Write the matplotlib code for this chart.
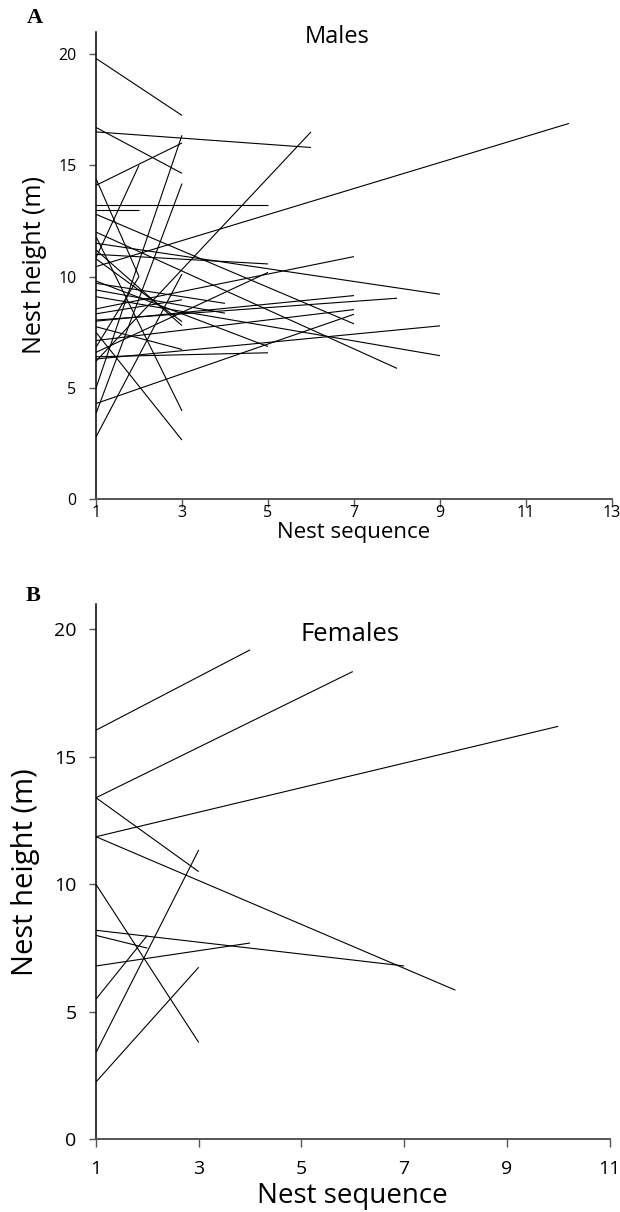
import matplotlib
matplotlib.use("Agg")
import matplotlib.pyplot as plt

# ---------------- data ----------------
# Males: each line runs from nest 1 (start height) to (end nest, end height)
males_start = [19.8, 16.7, 14.1, 5.0, 3.85, 2.8, 8.33, 10.8, 11.2, 7.75, 11.8, 7.5,
               10.85, 13.0, 14.4, 6.83,
               9.7, 9.4,
               13.2, 11.0, 6.6, 9.8, 6.4,
               6.2, 16.5,
               8.55, 8.0, 7.13, 4.3, 12.8,
               8.05, 12.0,
               11.5, 6.3, 9.1,
               10.45]
males_end_x = [3, 3, 3, 3, 3, 3, 3, 3, 3, 3, 3, 3,
               2, 2, 2, 2,
               4, 4,
               5, 5, 5, 5, 5,
               6, 6,
               7, 7, 7, 7, 7,
               8, 8,
               9, 9, 9,
               12]
males_end_y = [17.24, 14.64, 16.0, 16.35, 14.18, 10.12, 8.96, 7.98, 7.8, 6.73, 3.97, 2.66,
               15.0, 13.0, 10.0, 10.0,
               8.8, 8.36,
               13.2, 10.57, 10.19, 6.86, 6.58,
               16.5, 15.8,
               10.9, 9.15, 8.52, 8.31, 7.88,
               9.03, 5.88,
               9.21, 7.79, 6.45,
               16.88]

# Females
females_start = [16.05, 13.4, 11.87, 13.4, 11.87, 8.2, 8.0, 6.8, 10.0, 5.5, 3.4, 2.25]
females_end_x = [4, 6, 10, 3, 8, 7, 2, 4, 3, 2, 3, 3]
females_end_y = [19.2, 18.35, 16.2, 10.5, 5.85, 6.8, 7.5, 7.7, 3.8, 8.0, 11.35, 6.75]

y_ticks = [0, 5, 10, 15, 20]
x_ticks_A = [1, 3, 5, 7, 9, 11, 13]
x_ticks_B = [1, 3, 5, 7, 9, 11]

FONT = "Open Sans"
plt.rcParams['font.family'] = [FONT, 'DejaVu Sans']

fig = plt.figure(figsize=(6.2, 12.12), dpi=100)
W, H = 620, 1212


def make_ax(left, top, right, bottom):
    return fig.add_axes([left / W, 1 - bottom / H, (right - left) / W, (bottom - top) / H])


def style(ax, xlim, xticks, tick_fs, xpad):
    ax.set_xlim(*xlim)
    ax.set_ylim(0, 21)
    ax.set_xticks(xticks)
    ax.set_yticks(y_ticks)
    for s in ["top", "right"]:
        ax.spines[s].set_visible(False)
    ax.spines["left"].set_color("black")
    ax.spines["left"].set_linewidth(1.1)
    ax.spines["bottom"].set_color("#555555")
    ax.spines["bottom"].set_linewidth(1.4)
    ax.tick_params(axis="y", direction="out", length=5, width=1.0, color="#555555",
                   labelsize=tick_fs, pad=9)
    ax.tick_params(axis="x", direction="out", length=6, width=1.0, color="#555555",
                   labelsize=tick_fs, pad=xpad)


# ---------------- Panel A ----------------
axA = make_ax(96, 31.7, 612, 499.3)
for s, ex, ey in zip(males_start, males_end_x, males_end_y):
    axA.plot([1, ex], [s, ey], color="black", lw=0.8, solid_capstyle="butt")
style(axA, (1, 13), x_ticks_A, 11.5, -2)
axA.set_xlabel("Nest sequence", fontsize=16, labelpad=1)
axA.set_ylabel("Nest height (m)", fontsize=18, labelpad=8)
axA.text(6.6, 20.75, "Males", fontsize=17, ha="center", va="center")
fig.text(35 / W, 1 - 18 / H, "A", family="Liberation Serif", weight="bold",
         fontsize=16, ha="center", va="center")

# ---------------- Panel B ----------------
axB = make_ax(96, 604, 609.5, 1139.3)
for s, ex, ey in zip(females_start, females_end_x, females_end_y):
    axB.plot([1, ex], [s, ey], color="black", lw=0.8, solid_capstyle="butt")
style(axB, (1, 11), x_ticks_B, 14, 9)
axB.set_xlabel("Nest sequence", fontsize=20, labelpad=3)
axB.set_ylabel("Nest height (m)", fontsize=21, labelpad=10)
axB.text(5.95, 19.8, "Females", fontsize=18.5, ha="center", va="center")
fig.text(33 / W, 1 - 596 / H, "B", family="Liberation Serif", weight="bold",
         fontsize=16, ha="center", va="center")

fig.savefig("out.png", dpi=100)
